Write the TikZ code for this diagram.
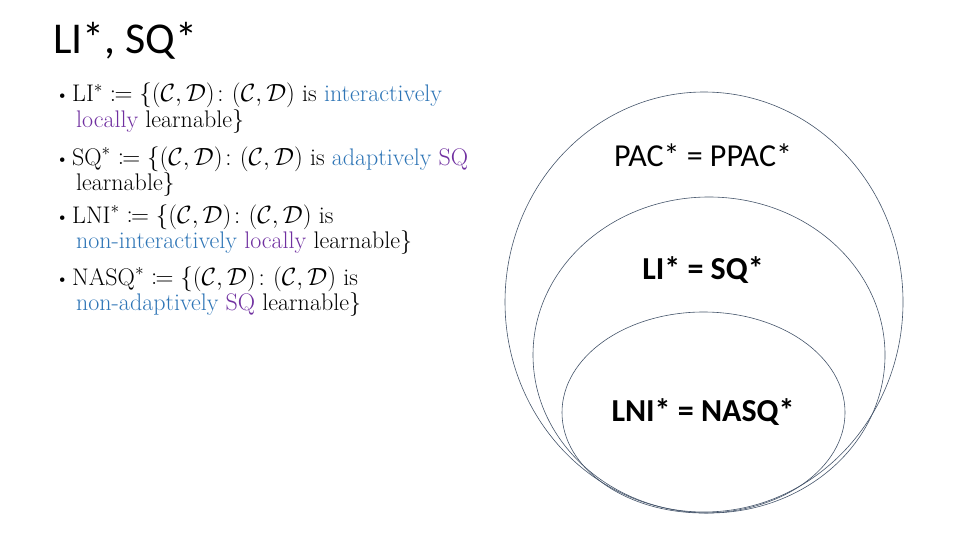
\documentclass[tikz,border=0pt]{standalone}
\usepackage{fontspec}
\usepackage{mathtools}
\newfontfamily\slidefont{Carlito}
\definecolor{blueword}{HTML}{2E75B6}
\definecolor{purpword}{HTML}{7030A0}
\definecolor{ringline}{HTML}{44546A}
\newcommand{\pair}{(\mathcal{C},\mathcal{D})}

\begin{document}
\begin{tikzpicture}[
    x=1pt, y=-1pt,
    title/.style={font=\slidefont\fontsize{44}{50}\selectfont, anchor=base west, inner sep=0pt},
    item/.style={font=\fontsize{24}{26}\selectfont, anchor=base west, inner sep=0pt},
    dot/.style={font=\fontsize{20}{24}\selectfont, anchor=base west, inner sep=0pt},
    ring/.style={draw=ringline, line width=0.6pt},
    setlabel/.style={font=\slidefont\fontsize{32}{36}\selectfont, anchor=center, inner sep=0pt}
]
\useasboundingbox (0,0) rectangle (960,540);

\node[title] (head) at (53,54) {LI*, SQ*};

% definitions on the left
\node[dot] (b1) at (55,102) {\textbullet};
\node[item] (li1) at (72,102) {LI$^*\coloneqq\{\pair\colon\pair$ is \textcolor{blueword}{interactively}};
\node[item] (li2) at (76,128) {\textcolor{purpword}{locally} learnable\}};
\node[dot] (b2) at (55,165) {\textbullet};
\node[item] (sq1) at (72,165) {SQ$^*\coloneqq\{\pair\colon\pair$ is \textcolor{blueword}{adaptively} \textcolor{purpword}{SQ}};
\node[item] (sq2) at (76,190) {learnable\}};
\node[dot] (b3) at (55,223) {\textbullet};
\node[item] (lni1) at (72,223) {LNI$^*\coloneqq\{\pair\colon\pair$ is};
\node[item] (lni2) at (76,248) {\textcolor{blueword}{non-interactively} \textcolor{purpword}{locally} learnable\}};
\node[dot] (b4) at (55,285) {\textbullet};
\node[item] (nasq1) at (72,285) {NASQ$^*\coloneqq\{\pair\colon\pair$ is};
\node[item] (nasq2) at (76,310) {\textcolor{blueword}{non-adaptively} \textcolor{purpword}{SQ} learnable\}};

% nested classes
\draw[ring] (704,302) ellipse [x radius=199, y radius=210];
\draw[ring] (709,355) ellipse [x radius=176, y radius=158];
\draw[ring] (703.5,412.5) ellipse [x radius=141.5, y radius=100.5];

\node[setlabel] (pac) at (703,155) {PAC* = PPAC*};
\node[setlabel, font=\slidefont\bfseries\fontsize{32}{36}\selectfont] (lisq) at (703,270) {LI* = SQ*};
\node[setlabel, font=\slidefont\bfseries\fontsize{32}{36}\selectfont] (lnasq) at (703,412) {LNI* = NASQ*};

\end{tikzpicture}
\end{document}
